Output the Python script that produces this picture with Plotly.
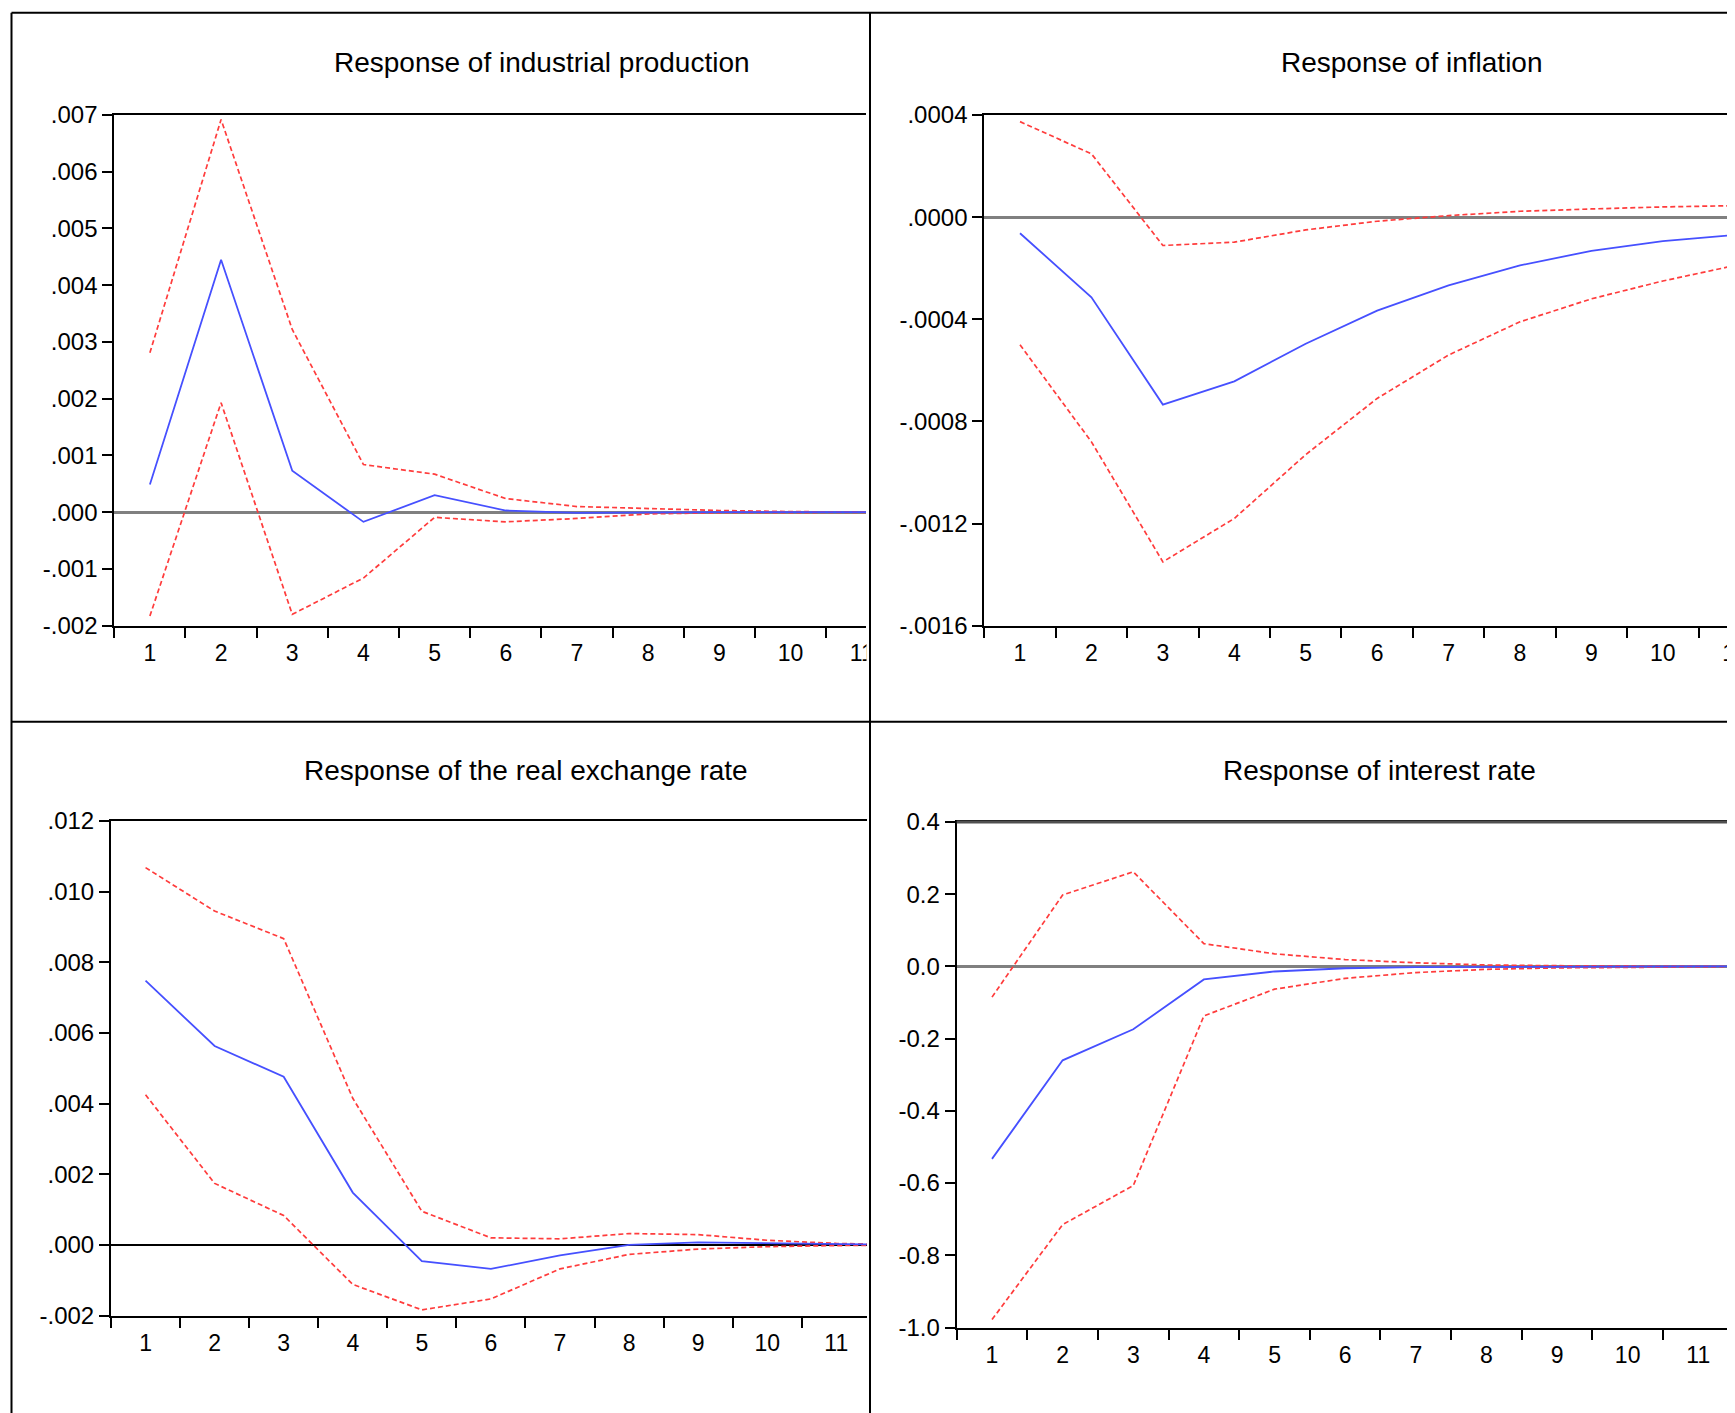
import plotly.graph_objects as go

W, H = 1735, 1413
OFF = 8  # page body margin offset in the browser

periods = [1, 2, 3, 4, 5, 6, 7, 8, 9, 10, 11, 12]

ip_resp = [0.00049, 0.00445, 0.00073, -0.00017, 0.00030, 0.00003, -0.00001, 0.0, 0.0, 0.0, 0.0, 0.0]
ip_upper = [0.00281, 0.00692, 0.00322, 0.00084, 0.00067, 0.00024, 0.00010, 0.00006, 0.00003, 0.00001, 0.0, 0.0]
ip_lower = [-0.00183, 0.00193, -0.00180, -0.00116, -0.00009, -0.00017, -0.00011, -0.00003, -0.00001, 0.0, 0.0, 0.0]

inf_resp = [-0.000063, -0.000314, -0.000734, -0.000643, -0.000496, -0.000366, -0.000267, -0.000189, -0.000132, -0.000094, -0.000070, -0.000052]
inf_upper = [0.000374, 0.000248, -0.000111, -0.000098, -0.000050, -0.000016, 0.000006, 0.000023, 0.000032, 0.000040, 0.000045, 0.000046]
inf_lower = [-0.00050, -0.00088, -0.00135, -0.00118, -0.00093, -0.00071, -0.00054, -0.00041, -0.00032, -0.00025, -0.00019, -0.00015]

rer_resp = [0.00748, 0.00563, 0.00476, 0.00148, -0.00046, -0.00068, -0.00030, 0.0, 0.00007, 0.00004, 0.00001, 0.0]
rer_upper = [0.01068, 0.00945, 0.00867, 0.00415, 0.00095, 0.00020, 0.00017, 0.00032, 0.00029, 0.00013, 0.00004, 0.00001]
rer_lower = [0.00425, 0.00174, 0.00083, -0.00112, -0.00184, -0.00153, -0.00068, -0.00027, -0.00012, -0.00005, -0.00002, -0.00001]

ir_resp = [-0.533, -0.260, -0.174, -0.036, -0.014, -0.005, -0.002, -0.001, 0.0, 0.0, 0.0, 0.0]
ir_upper = [-0.085, 0.198, 0.262, 0.063, 0.035, 0.019, 0.010, 0.004, 0.002, 0.001, 0.0, 0.0]
ir_lower = [-0.978, -0.715, -0.607, -0.137, -0.063, -0.033, -0.017, -0.008, -0.004, -0.002, -0.001, 0.0]

titles = ["Response of industrial production", "Response of inflation",
          "Response of the real exchange rate", "Response of interest rate"]

ip_ticks = [0.007, 0.006, 0.005, 0.004, 0.003, 0.002, 0.001, 0.0, -0.001, -0.002]
ip_ticktext = [".007", ".006", ".005", ".004", ".003", ".002", ".001", ".000", "-.001", "-.002"]
inf_ticks = [0.0004, 0.0, -0.0004, -0.0008, -0.0012, -0.0016]
inf_ticktext = [".0004", ".0000", "-.0004", "-.0008", "-.0012", "-.0016"]
rer_ticks = [0.012, 0.010, 0.008, 0.006, 0.004, 0.002, 0.0, -0.002]
rer_ticktext = [".012", ".010", ".008", ".006", ".004", ".002", ".000", "-.002"]
ir_ticks = [0.4, 0.2, 0.0, -0.2, -0.4, -0.6, -0.8, -1.0]
ir_ticktext = ["0.4", "0.2", "0.0", "-0.2", "-0.4", "-0.6", "-0.8", "-1.0"]

x_labels = ["1", "2", "3", "4", "5", "6", "7", "8", "9", "10", "11"]

FONT = "Arial, Liberation Sans, Helvetica, sans-serif"
BLUE = "rgb(70,80,255)"
RED = "rgb(255,60,60)"


def px_x(v):
    return (v - OFF) / W


def px_y(v):
    return 1 - (v - OFF) / H


panels = [
    dict(resp=ip_resp, up=ip_upper, lo=ip_lower, ticks=ip_ticks, ttext=ip_ticktext,
         yr=[-0.002, 0.007], xd=[114.3, 866.0], yd=[115.0, 625.7], xr=[0.5, 11.06],
         zc="rgb(128,128,128)", zw=2.5, title_xy=(542, 63)),
    dict(resp=inf_resp, up=inf_upper, lo=inf_lower, ticks=inf_ticks, ttext=inf_ticktext,
         yr=[-0.0016, 0.0004], xd=[984.3, 1735.0], yd=[115.0, 625.7], xr=[0.5, 11.01],
         zc="rgb(128,128,128)", zw=2.5, title_xy=(1412, 63)),
    dict(resp=rer_resp, up=rer_upper, lo=rer_lower, ticks=rer_ticks, ttext=rer_ticktext,
         yr=[-0.002, 0.012], xd=[111.0, 866.7], yd=[821.0, 1315.5], xr=[0.5, 11.44],
         zc="black", zw=1.5, title_xy=(526, 770)),
    dict(resp=ir_resp, up=ir_upper, lo=ir_lower, ticks=ir_ticks, ttext=ir_ticktext,
         yr=[-1.0, 0.4], xd=[956.7, 1735.0], yd=[822.0, 1327.5], xr=[0.5, 11.52],
         zc="rgb(128,128,128)", zw=2.5, title_xy=(1379, 770)),
]

fig = go.Figure()
layout = dict(
    template="none",
    width=W, height=H, margin=dict(l=0, r=0, t=0, b=0, autoexpand=False),
    paper_bgcolor="white", plot_bgcolor="white", showlegend=False,
    font=dict(family=FONT, color="black", size=23),
)
annotations = []
shapes = []

for i, p in enumerate(panels):
    n = i + 1
    xa = "x" if n == 1 else f"x{n}"
    ya = "y" if n == 1 else f"y{n}"
    fig.add_trace(go.Scatter(x=periods, y=p["up"], mode="lines", xaxis=xa, yaxis=ya,
                             line=dict(color=RED, width=1.7, dash="5px,3px")))
    fig.add_trace(go.Scatter(x=periods, y=p["lo"], mode="lines", xaxis=xa, yaxis=ya,
                             line=dict(color=RED, width=1.7, dash="5px,3px")))
    fig.add_trace(go.Scatter(x=periods, y=p["resp"], mode="lines", xaxis=xa, yaxis=ya,
                             line=dict(color=BLUE, width=1.8)))
    xkey = "xaxis" if n == 1 else f"xaxis{n}"
    ykey = "yaxis" if n == 1 else f"yaxis{n}"
    layout[xkey] = dict(
        domain=[px_x(p["xd"][0]), min(1.0, px_x(p["xd"][1]))], anchor=ya, range=p["xr"],
        tickmode="array", tickvals=list(range(1, 12)), ticktext=x_labels,
        ticks="outside", ticklen=6, tickcolor="rgba(0,0,0,0)", ticklabeloverflow="allow",
        minor=dict(tickmode="array", tickvals=[k + 0.5 for k in range(0, 12)],
                   ticks="outside", ticklen=10, tickwidth=2, tickcolor="black", showgrid=False),
        showline=True, linecolor="black", linewidth=2, mirror=True, automargin=False,
        showgrid=False, zeroline=False, tickfont=dict(size=23, family=FONT, color="black"),
        fixedrange=True,
    )
    layout[ykey] = dict(
        domain=[px_y(p["yd"][1]), px_y(p["yd"][0])], anchor=xa, range=p["yr"],
        tickmode="array", tickvals=p["ticks"], ticktext=p["ttext"],
        ticks="outside", ticklen=10, tickwidth=2, tickcolor="black",
        showline=True, linecolor="black", linewidth=2, automargin=False,
        showgrid=False, zeroline=True, zerolinecolor=p["zc"], zerolinewidth=p["zw"],
        tickfont=dict(size=24, family=FONT, color="black"), fixedrange=True,
    )
    tx, ty = p["title_xy"]
    annotations.append(dict(text=titles[i], x=px_x(tx), y=px_y(ty), xref="paper", yref="paper",
                            xanchor="center", yanchor="middle", showarrow=False,
                            font=dict(size=28, family=FONT, color="black")))

# mask the clipped part of the top-left "11" label past the plot edge
shapes.append(dict(type="rect", xref="paper", yref="paper", layer="above",
                   x0=px_x(866.5), x1=px_x(905), y0=px_y(675), y1=px_y(633),
                   fillcolor="white", line=dict(width=0)))
# thicker grey top frame of the interest-rate panel
shapes.append(dict(type="line", xref="paper", yref="paper", layer="above",
                   x0=px_x(956.7), x1=1, y0=px_y(822.0), y1=px_y(822.0),
                   line=dict(color="rgb(80,80,80)", width=3)))
# outer frame and dividers
shapes.append(dict(type="line", xref="paper", yref="paper", layer="above",
                   x0=px_x(11.5), x1=px_x(11.5), y0=px_y(12.7), y1=0,
                   line=dict(color="black", width=2)))
shapes.append(dict(type="line", xref="paper", yref="paper", layer="above",
                   x0=px_x(11.5), x1=1, y0=px_y(12.7), y1=px_y(12.7),
                   line=dict(color="black", width=2)))
shapes.append(dict(type="line", xref="paper", yref="paper", layer="above",
                   x0=px_x(870), x1=px_x(870), y0=px_y(12.7), y1=0,
                   line=dict(color="black", width=2)))
shapes.append(dict(type="line", xref="paper", yref="paper", layer="above",
                   x0=px_x(11.5), x1=1, y0=px_y(721.7), y1=px_y(721.7),
                   line=dict(color="black", width=2)))

layout["annotations"] = annotations
layout["shapes"] = shapes
fig.update_layout(**layout)
fig.write_html("out.html")
